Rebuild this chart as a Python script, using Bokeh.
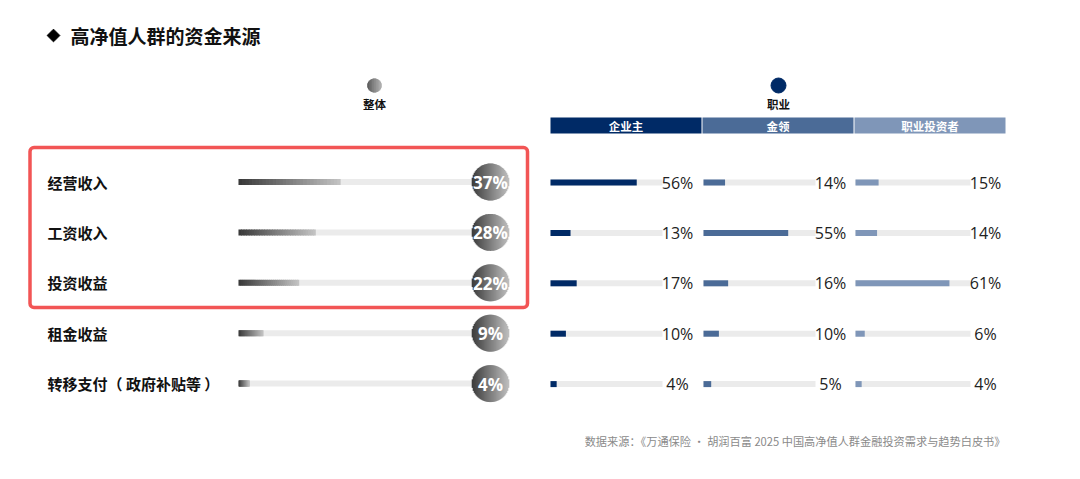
import math
from bokeh.plotting import figure
from bokeh.models import Range1d, BoxAnnotation
from bokeh.core.properties import value
from bokeh.embed import file_html
from bokeh.resources import INLINE

# ---------------- data ----------------
title = "高净值人群的资金来源"
categories = ["经营收入", "工资收入", "投资收益", "租金收益", "转移支付（ 政府补贴等 ）"]
overall = [37, 28, 22, 9, 4]
groups = ["企业主", "金领", "职业投资者"]
owner = [56, 13, 17, 10, 4]
gold_collar = [14, 55, 16, 10, 5]
investor = [15, 14, 61, 6, 4]
overall_label = "整体"
career_label = "职业"
source_note = "数据来源：《万通保险 · 胡润百富 2025 中国高净值人群金融投资需求与趋势白皮书》"

# ---------------- style / layout ----------------
CJK = "Noto Sans CJK SC"
NUM = "Open Sans"
group_colors = ["#002a66", "#4b6b97", "#7f96b8"]
track_color = "#ebebeb"

p = figure(width=1064, height=463, x_range=Range1d(0, 1064), y_range=Range1d(463, 0),
           output_backend="svg", toolbar_location=None, x_axis_type=None, y_axis_type=None,
           min_border=0)
p.grid.visible = False
p.outline_line_color = None
p.background_fill_color = "white"
p.border_fill_color = "white"


def hexmix(c1, c2, t):
    a = [int(c1[i:i + 2], 16) for i in (1, 3, 5)]
    b = [int(c2[i:i + 2], 16) for i in (1, 3, 5)]
    return "#%02x%02x%02x" % tuple(int(round(a[k] + (b[k] - a[k]) * t)) for k in range(3))


def grad_circle(cx, cy, r, c1, c2, step=1.0):
    n = int(math.ceil(2 * r / step))
    L, R, T, B, C = [], [], [], [], []
    for k in range(n):
        x0 = cx - r + k * step
        x1 = min(x0 + step, cx + r)
        xm = (x0 + x1) / 2
        h = math.sqrt(max(r * r - (xm - cx) ** 2, 0))
        L.append(x0 - 0.3); R.append(x1 + 0.3); T.append(cy - h); B.append(cy + h)
        C.append(hexmix(c1, c2, k / max(n - 1, 1)))
    return L, R, T, B, C


row_y = [181.5 + 50.4 * i for i in range(len(categories))]

# title
p.scatter([53], [35], marker="square", angle=math.pi / 4, size=9, color="black")
p.text([70], [35], text=[title], text_font=value(CJK), text_font_style="bold",
       text_font_size="19px", text_baseline="middle", text_color="#111111")

# legend markers
cL, cR, cT, cB, cC = grad_circle(374, 85, 7, "#5a5a5a", "#b0b0b0", 0.7)
p.quad(left=cL, right=cR, top=cT, bottom=cB, fill_color=cC, line_color=None)
p.text([374], [103], text=[overall_label], text_font=value(CJK), text_font_style="bold",
       text_font_size="11.5px", text_align="center", text_baseline="middle", text_color="#111111")
p.scatter([778], [85], marker="circle", size=15, color=group_colors[0])
p.text([778], [103], text=[career_label], text_font=value(CJK), text_font_style="bold",
       text_font_size="11.5px", text_align="center", text_baseline="middle", text_color="#111111")

# group header boxes
g_left = [550, 702, 854]
g_right = [701, 853, 1005]
p.quad(left=g_left, right=g_right, top=[117] * 3, bottom=[133] * 3,
       fill_color=group_colors, line_color=None)
p.text([(a + b) / 2 for a, b in zip(g_left, g_right)], [125] * 3, text=groups,
       text_font=value(CJK), text_font_style="bold", text_font_size="11.5px",
       text_align="center", text_baseline="middle", text_color="white")

# category labels
p.text([47] * len(categories), row_y, text=categories, text_font=value(CJK),
       text_font_style="bold", text_font_size="15px", text_baseline="middle",
       text_color="#111111")

# overall bars (gradient)
x0_left = 238
scale_left = 2.76
bar_h = 6
p.quad(left=[x0_left] * len(row_y), right=[490] * len(row_y),
       top=[y - bar_h / 2 for y in row_y], bottom=[y + bar_h / 2 for y in row_y],
       fill_color=track_color, line_color=None)
L, R, T, B, C = [], [], [], [], []
nseg = 30
for v, y in zip(overall, row_y):
    w = v * scale_left
    for k in range(nseg):
        L.append(x0_left + w * k / nseg)
        R.append(min(x0_left + w * (k + 1) / nseg + 0.8, x0_left + w))
        T.append(y - bar_h / 2); B.append(y + bar_h / 2)
        C.append(hexmix("#3a3a3a", "#c2c2c2", k / (nseg - 1)))
p.quad(left=L, right=R, top=T, bottom=B, fill_color=C, line_color=None)

# overall circles
L, R, T, B, C = [], [], [], [], []
for y in row_y:
    a, b, c, d, e = grad_circle(490, y, 18.5, "#3c3c3c", "#bdbdbd", 1.0)
    L += a; R += b; T += c; B += d; C += e
p.quad(left=L, right=R, top=T, bottom=B, fill_color=C, line_color=None)
p.text([490] * len(row_y), [y + 0.5 for y in row_y], text=[f"{v}%" for v in overall],
       text_font=value(NUM), text_font_style="bold", text_font_size="17px",
       text_align="center", text_baseline="middle", text_color="white")

# group bars
scale_r = 1.54
track_end = [662, 815, 970]
text_cx = [677, 830, 985]
for gi, vals in enumerate([owner, gold_collar, investor]):
    x0 = g_left[gi] + (0 if gi == 0 else 1)
    p.quad(left=[x0] * len(row_y), right=[track_end[gi]] * len(row_y),
           top=[y - bar_h / 2 + 0.5 for y in row_y], bottom=[y + bar_h / 2 + 0.5 for y in row_y],
           fill_color=track_color, line_color=None)
    p.quad(left=[x0] * len(row_y), right=[x0 + v * scale_r for v in vals],
           top=[y - bar_h / 2 + 0.5 for y in row_y], bottom=[y + bar_h / 2 + 0.5 for y in row_y],
           fill_color=group_colors[gi], line_color=None)
    p.text([text_cx[gi]] * len(row_y), [y + 0.5 for y in row_y], text=[f"{v}%" for v in vals],
           text_font=value(NUM), text_font_size="16px", text_align="center",
           text_baseline="middle", text_color="#222222")

# highlight box
p.add_layout(BoxAnnotation(left=29.5, right=527, top=147, bottom=307, fill_alpha=0,
                           line_color="#f25555", line_alpha=1.0, line_width=3.5,
                           border_radius=4))

# source note
p.text([1005], [440], text=[source_note], text_font=value(CJK), text_font_size="11.2px",
       text_align="right", text_baseline="middle", text_color="#8a8a8a")

open("out.html", "w").write(file_html(p, INLINE))
